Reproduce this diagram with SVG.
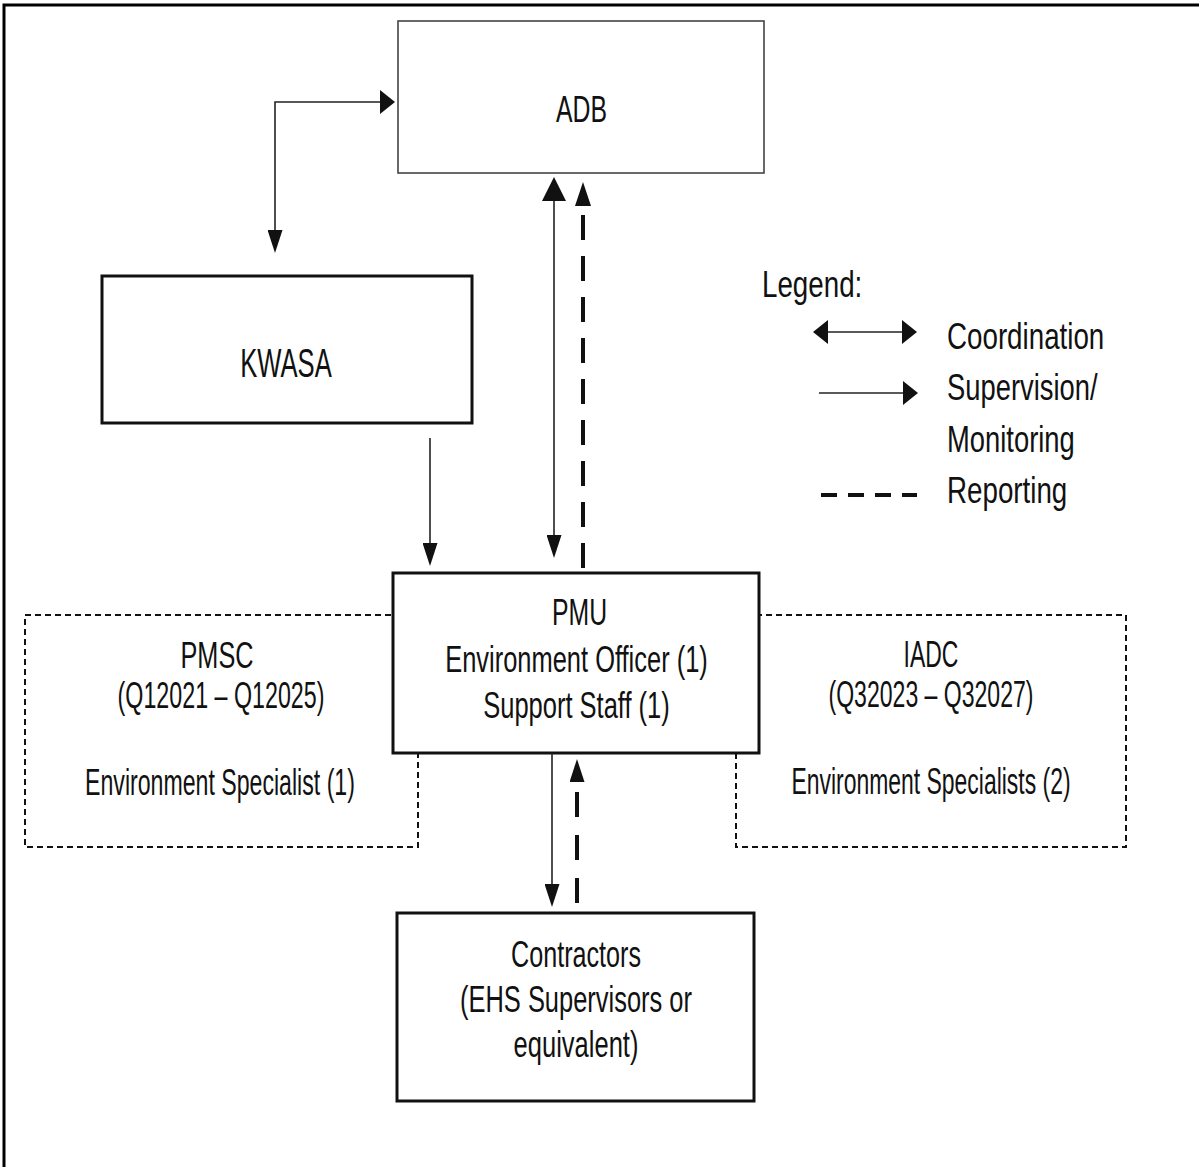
<svg xmlns="http://www.w3.org/2000/svg" width="1199" height="1167" viewBox="0 0 1199 1167">
<style>
  text { font-family: "Liberation Sans", Arial, sans-serif; font-size: 37px; fill: #111; }
  .c { text-anchor: middle; }
  .box { fill: #fff; stroke: #111; stroke-width: 3; }
  .thin { fill: #fff; stroke: #444; stroke-width: 1.6; }
  .dbox { fill: #fff; stroke: #111; stroke-width: 2; stroke-dasharray: 6 4; }
  .ln { fill: none; stroke: #222; stroke-width: 1.6; }
  .rep { fill: none; stroke: #111; stroke-width: 4; }
</style>
<defs>
  <marker id="ah-h" markerUnits="userSpaceOnUse" viewBox="0 0 15 24" markerWidth="15" markerHeight="24" refX="0" refY="12" orient="auto-start-reverse">
    <path d="M0,0 L15,12 L0,24 z" fill="#111"/>
  </marker>
  <marker id="ah-v" markerUnits="userSpaceOnUse" viewBox="0 0 23 15" markerWidth="23" markerHeight="15" refX="0" refY="7.5" orient="auto-start-reverse">
    <path d="M0,0 L23,7.5 L0,15 z" fill="#111"/>
  </marker>
  <marker id="ah-big" markerUnits="userSpaceOnUse" viewBox="0 0 24 24" markerWidth="24" markerHeight="24" refX="0" refY="12" orient="auto-start-reverse">
    <path d="M0,0 L24,12 L0,24 z" fill="#111"/>
  </marker>
  <marker id="ah-r" markerUnits="userSpaceOnUse" viewBox="0 0 24 16" markerWidth="24" markerHeight="16" refX="0" refY="8" orient="auto-start-reverse">
    <path d="M0,0 L24,8 L0,16 z" fill="#111"/>
  </marker>
</defs>

<rect id="frame" x="4" y="5" width="1220" height="1190" fill="none" stroke="#000" stroke-width="3"/>

<g id="pmsc">
  <rect class="dbox" x="25" y="615" width="393" height="232"/>
  <text class="c" transform="translate(217 668) scale(0.683 1)">PMSC</text>
  <text class="c" transform="translate(221 708) scale(0.629 1)">(Q12021 – Q12025)</text>
  <text class="c" transform="translate(220 795) scale(0.625 1)">Environment Specialist (1)</text>
</g>

<g id="iadc">
  <rect class="dbox" x="736" y="615" width="390" height="232"/>
  <text class="c" transform="translate(931 667) scale(0.62 1)">IADC</text>
  <text class="c" transform="translate(931 707) scale(0.623 1)">(Q32023 – Q32027)</text>
  <text class="c" transform="translate(931 794) scale(0.62 1)">Environment Specialists (2)</text>
</g>

<g id="adb">
  <rect class="thin" x="398" y="21" width="366" height="152"/>
  <text class="c" transform="translate(581.5 122) scale(0.67 1)">ADB</text>
</g>

<g id="kwasa">
  <rect class="box" x="102" y="276" width="370" height="147"/>
  <text class="c" style="font-size:40px" transform="translate(286 377) scale(0.64 1)">KWASA</text>
</g>

<g id="pmu">
  <rect class="box" x="393" y="573" width="366" height="180"/>
  <text class="c" transform="translate(579.5 625) scale(0.67 1)">PMU</text>
  <text class="c" transform="translate(576.5 672) scale(0.688 1)">Environment Officer (1)</text>
  <text class="c" transform="translate(576.5 718) scale(0.689 1)">Support Staff (1)</text>
</g>

<g id="contractors">
  <rect class="box" x="397" y="913" width="357" height="188"/>
  <text class="c" transform="translate(576 967) scale(0.68 1)">Contractors</text>
  <text class="c" transform="translate(576 1012) scale(0.688 1)">(EHS Supervisors or</text>
  <text class="c" transform="translate(576 1057) scale(0.69 1)">equivalent)</text>
</g>

<g id="connectors">
  <path class="ln" d="M275,230 V102 H380" marker-start="url(#ah-v)" marker-end="url(#ah-h)"/>
  <path class="ln" d="M430,438 V543" marker-end="url(#ah-v)"/>
  <path class="ln" d="M554,201 V535" marker-start="url(#ah-big)" marker-end="url(#ah-v)"/>
  <path class="rep" d="M583,568 V206" stroke-dasharray="25 16" marker-end="url(#ah-r)"/>
  <path class="ln" d="M552,753 V884" marker-end="url(#ah-v)"/>
  <path class="rep" d="M577,903 V782" stroke-dasharray="25 18" marker-end="url(#ah-v)"/>
</g>

<g id="legend">
  <text transform="translate(762 297) scale(0.75 1)">Legend:</text>
  <path class="ln" d="M828,332 H902" marker-start="url(#ah-h)" marker-end="url(#ah-h)"/>
  <text transform="translate(947 349) scale(0.75 1)">Coordination</text>
  <path class="ln" d="M819,393 H903" marker-end="url(#ah-h)"/>
  <text transform="translate(947 400) scale(0.74 1)">Supervision/</text>
  <text transform="translate(947 452) scale(0.74 1)">Monitoring</text>
  <path class="rep" d="M821,495 H917" stroke-dasharray="16 11"/>
  <text transform="translate(947 503) scale(0.75 1)">Reporting</text>
</g>
</svg>
